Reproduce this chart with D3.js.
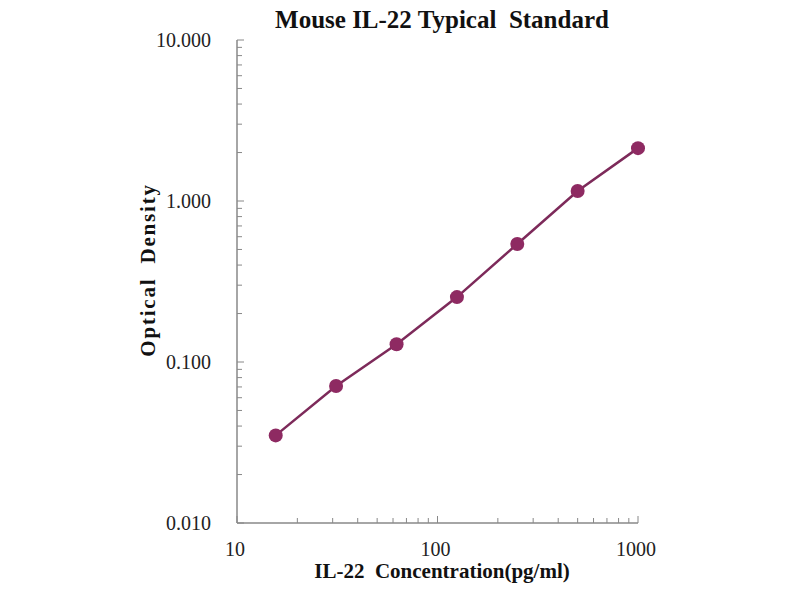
<!DOCTYPE html>
<html><head><meta charset="utf-8">
<script src="https://cdn.jsdelivr.net/npm/d3@7"></script>
<style>body{margin:0;background:#fff}svg{display:block}</style>
</head><body>
<svg id="c" width="800" height="600"></svg>
<script>
const concentrations = [15.6, 31.2, 62.5, 125, 250, 500, 1000];
const odValues = [0.035, 0.071, 0.129, 0.253, 0.541, 1.154, 2.13];
const xTickValues = [10, 100, 1000];
const yTickValues = [0.01, 0.1, 1, 10];
const titleText = "Mouse IL-22 Typical  Standard";
const xTitle = "IL-22  Concentration(pg/ml)";
const yTitle = "Optical  Density";

const svg = d3.select("#c");
const x = d3.scaleLog().domain([10, 1000]).range([237, 638]);
const y = d3.scaleLog().domain([0.01, 10]).range([523, 40]);
const axisColor = "#888";
const font = "'Liberation Serif','Times New Roman',serif";

function minors(dom) {
  const out = [];
  for (let d = dom[0]; d < dom[1]; d *= 10)
    for (let k = 2; k <= 9; k++) out.push(d * k);
  return out;
}
const gx = svg.append("g");
gx.selectAll("line.mx").data(minors(x.domain())).join("line")
  .attr("x1", d => x(d)).attr("x2", d => x(d))
  .attr("y1", 523).attr("y2", 518).attr("stroke", axisColor).attr("stroke-width", 1);
gx.selectAll("line.Mx").data(xTickValues).join("line")
  .attr("x1", d => x(d)).attr("x2", d => x(d))
  .attr("y1", 523).attr("y2", 516).attr("stroke", axisColor).attr("stroke-width", 1);
gx.append("line").attr("x1", 237).attr("x2", 638).attr("y1", 523).attr("y2", 523)
  .attr("stroke", axisColor).attr("stroke-width", 1.5);
gx.selectAll("text").data(xTickValues).join("text")
  .attr("x", d => x(d) - 2).attr("y", 556).attr("text-anchor", "middle")
  .attr("font-family", font).attr("font-size", 20).attr("fill", "#222")
  .text(d => d3.format("d")(d));

const gy = svg.append("g");
gy.selectAll("line.my").data(minors(y.domain())).join("line")
  .attr("y1", d => y(d)).attr("y2", d => y(d))
  .attr("x1", 237).attr("x2", 242).attr("stroke", axisColor).attr("stroke-width", 1);
gy.selectAll("line.My").data(yTickValues).join("line")
  .attr("y1", d => y(d)).attr("y2", d => y(d))
  .attr("x1", 237).attr("x2", 244).attr("stroke", axisColor).attr("stroke-width", 1);
gy.append("line").attr("x1", 237).attr("x2", 237).attr("y1", 40).attr("y2", 523)
  .attr("stroke", axisColor).attr("stroke-width", 1.5);
gy.selectAll("text").data(yTickValues).join("text")
  .attr("x", 211).attr("y", d => y(d) + 7).attr("text-anchor", "end")
  .attr("font-family", font).attr("font-size", 20).attr("fill", "#222")
  .text(d => d3.format(".3f")(d));

const data = concentrations.map((c, i) => ({c, v: odValues[i]}));
const line = d3.line().x(d => x(d.c)).y(d => y(d.v));
svg.append("path").datum(data).attr("d", line)
  .attr("fill", "none").attr("stroke", "#7d2a5a").attr("stroke-width", 2.5);
svg.selectAll("circle").data(data).join("circle")
  .attr("cx", d => x(d.c)).attr("cy", d => y(d.v)).attr("r", 7)
  .attr("fill", "#8e2a62");

svg.append("text").attr("x", 442).attr("y", 28).attr("text-anchor", "middle")
  .attr("font-family", font).attr("font-size", 25).attr("font-weight", "bold")
  .style("white-space", "pre").attr("fill", "#111").text(titleText);
svg.append("text").attr("x", 442).attr("y", 578).attr("text-anchor", "middle")
  .attr("font-family", font).attr("font-size", 21).attr("font-weight", "bold")
  .style("white-space", "pre").attr("fill", "#111").text(xTitle);
svg.append("text").attr("transform", "translate(155,270) rotate(-90)").attr("text-anchor", "middle")
  .attr("font-family", font).attr("font-size", 21).attr("font-weight", "bold")
  .attr("letter-spacing", 1.8)
  .style("white-space", "pre").attr("fill", "#111").text(yTitle);
</script>
</body></html>
